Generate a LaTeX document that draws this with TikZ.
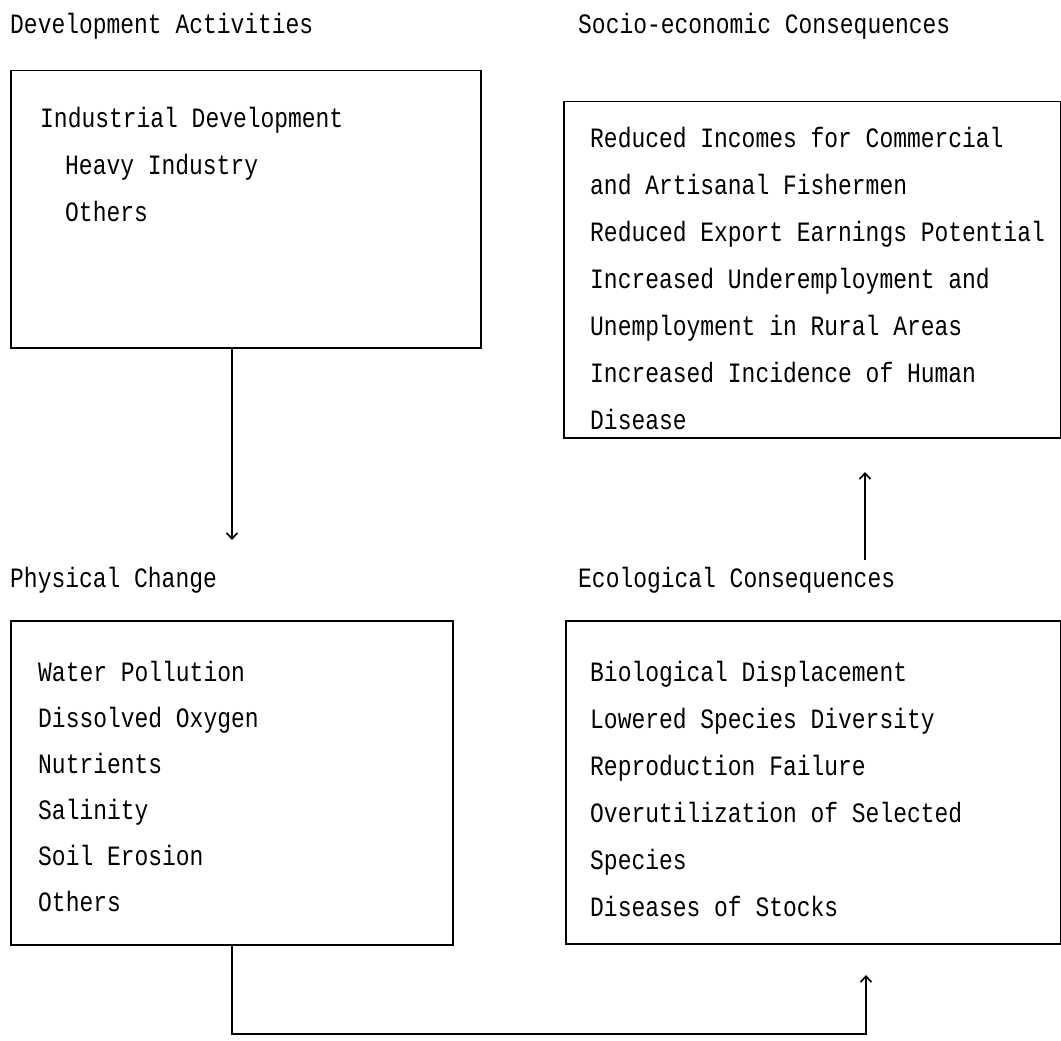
\documentclass[tikz,border=0pt]{standalone}
\usepackage{fontspec}
\setmonofont[FakeStretch=0.82]{Liberation Mono}
\usetikzlibrary{arrows,arrows.meta,positioning}

\begin{document}
\begin{tikzpicture}[x=1pt,y=-1pt,>={Straight Barb[length=6pt,width=11pt]},
  every node/.style={font=\ttfamily\fontsize{28}{30}\selectfont,inner sep=0pt,anchor=base west},
  box/.style={draw,line width=1.5pt,anchor=north west},
  link/.style={line width=1.6pt}]
\useasboundingbox (0,0) rectangle (1061,1041);

% titles
\node (devtitle) at (10,34) {Development Activities};
\node (sociotitle) at (578,34) {Socio-economic Consequences};
\node (phystitle) at (10,587) {Physical Change};
\node (ecotitle) at (578,587) {Ecological Consequences};

% boxes
\node[box,minimum width=470pt,minimum height=277pt] (dev) at (10,70) {};
\node[box,minimum width=497pt,minimum height=336pt] (socio) at (563,101) {};
\node[box,minimum width=442pt,minimum height=324pt] (phys) at (10,620) {};
\node[box,minimum width=495pt,minimum height=323pt] (eco) at (565,620) {};

% box texts
\node (dev-0) at (40,127) {Industrial Development};
\node (dev-1) at (65,174) {Heavy Industry};
\node (dev-2) at (65,221) {Others};
\foreach \txt [count=\i from 0] in {Reduced Incomes for Commercial,
  and Artisanal Fishermen,Reduced Export Earnings Potential,
  Increased Underemployment and,Unemployment in Rural Areas,
  Increased Incidence of Human,Disease}
  \node (socio-\i) at (590,147+47*\i) {\txt};
\foreach \txt [count=\i from 0] in {Water Pollution,Dissolved Oxygen,
  Nutrients,Salinity,Soil Erosion,Others}
  \node (phys-\i) at (38,681+46*\i) {\txt};
\foreach \txt [count=\i from 0] in {Biological Displacement,
  Lowered Species Diversity,Reproduction Failure,
  Overutilization of Selected,Species,Diseases of Stocks}
  \node (eco-\i) at (590,681+47*\i) {\txt};

% connectors
\coordinate (down) at (232,540);
\coordinate (upfrom) at (865,560);
\coordinate (upto) at (865,472);
\coordinate (corner) at (866,1034);
\coordinate (ecotip) at (866,975);
\draw[link,->] (dev.south -| down) -- (down);
\draw[link,->] (upfrom) -- (upto);
\draw[link,->] (phys.south -| down) |- (corner) -- (ecotip);

\end{tikzpicture}
\end{document}
